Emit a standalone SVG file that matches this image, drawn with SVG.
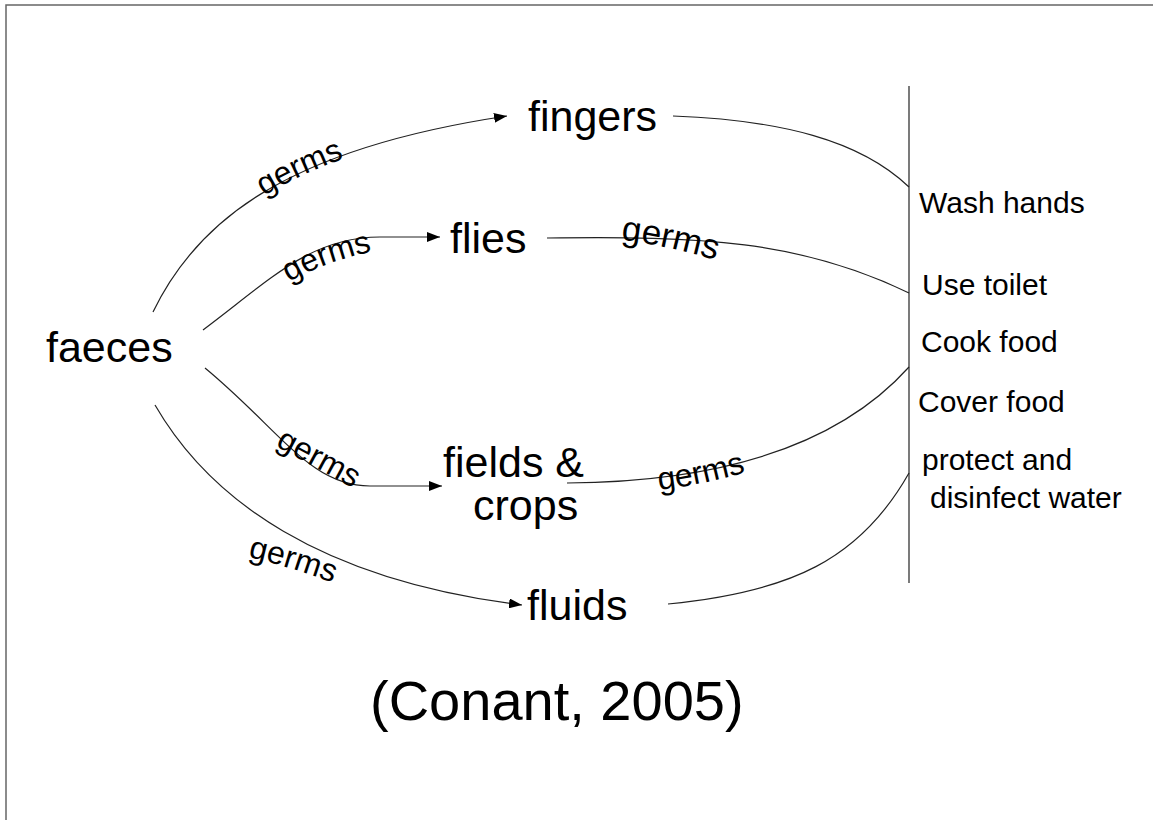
<svg xmlns="http://www.w3.org/2000/svg" width="1153" height="820" viewBox="0 0 1153 820">
<style>
text{font-family:"Liberation Sans",Arial,sans-serif;fill:#000}
.node{font-size:43px}
.act{font-size:30px}
.lbl{font-size:32px}
.cite{font-size:56px}
.c{fill:none;stroke:#222;stroke-width:1.2}
.a{marker-end:url(#arr)}
.guide{fill:none;stroke:none}
</style>
<defs>
<marker id="arr" markerUnits="userSpaceOnUse" markerWidth="14" markerHeight="10" refX="13" refY="5" orient="auto">
<path d="M0,0 L13,5 L0,10 z" fill="#000"/>
</marker>
<path id="p1" class="guide" d="M264,196 Q 304,172 356,154"/>
<path id="p2" class="guide" d="M289,282 Q 328,260 380,250"/>
<path id="p3" class="guide" d="M275,446 Q 317,468 358,491"/>
<path id="p4" class="guide" d="M248,557 Q 292,567 338,585"/>
<path id="p5" class="guide" d="M621,240 Q 667,245 726,263"/>
<path id="p6" class="guide" d="M659,490 Q 703,485 753,470"/>
</defs>
<rect width="1153" height="820" fill="#fff"/>
<path d="M6,820 L6,5 L1153,5" fill="none" stroke="#666" stroke-width="1.5"/>

<g id="connectors">
<path class="c a" d="M153,312 C 195,225 280,150 507,116"/>
<path class="c a" d="M203,330 C 270,280 310,237 380,237 L440,237"/>
<path class="c a" d="M205,368 C 280,430 310,486 370,486 L442,486"/>
<path class="c a" d="M155,405 C 210,500 320,580 522,605"/>
<path class="c" d="M673,116 C 780,120 860,140 909,187"/>
<path class="c" d="M547,238 C 700,236 800,240 909,293"/>
<path class="c" d="M567,483 C 700,482 830,455 909,367"/>
<path class="c" d="M668,604 C 790,592 860,560 909,473"/>
<line class="c" x1="909" y1="86" x2="909" y2="583"/>
</g>

<g id="labels">
<text class="lbl"><textPath href="#p1">germs</textPath></text>
<text class="lbl"><textPath href="#p2">germs</textPath></text>
<text class="lbl"><textPath href="#p3">germs</textPath></text>
<text class="lbl"><textPath href="#p4">germs</textPath></text>
<text class="lbl" style="font-size:35px"><textPath href="#p5">germs</textPath></text>
<text class="lbl"><textPath href="#p6">germs</textPath></text>
</g>

<g id="faeces"><text class="node" x="46" y="362">faeces</text></g>
<g id="fingers"><text class="node" x="528" y="131">fingers</text></g>
<g id="flies"><text class="node" x="450" y="253">flies</text></g>
<g id="fields"><text class="node" x="443" y="477">fields &amp;</text><text class="node" x="473" y="520">crops</text></g>
<g id="fluids"><text class="node" x="527" y="620">fluids</text></g>

<g id="actions">
<text class="act" x="919" y="213">Wash hands</text>
<text class="act" x="922" y="295">Use toilet</text>
<text class="act" x="921" y="352">Cook food</text>
<text class="act" x="918" y="412">Cover food</text>
<text class="act" x="922" y="470">protect and</text>
<text class="act" x="930" y="508">disinfect water</text>
</g>

<g id="citation"><text class="cite" x="370" y="720">(Conant, 2005)</text></g>
</svg>
